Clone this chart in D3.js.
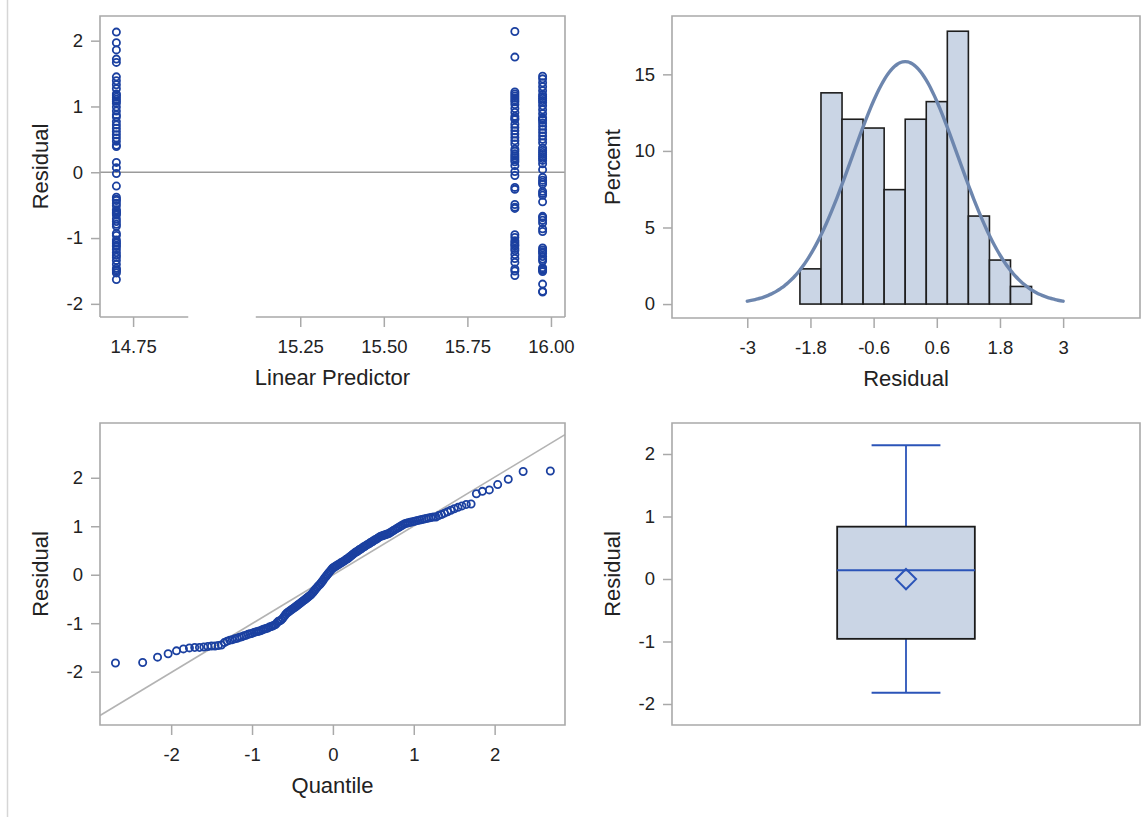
<!DOCTYPE html>
<html>
<head>
<meta charset="utf-8">
<script src="https://cdn.jsdelivr.net/npm/d3@7"></script>
<style>
  html, body { margin: 0; padding: 0; background: #fff; }
  svg { display: block; font-family: "Liberation Sans", Arial, sans-serif; }
</style>
</head>
<body>
<svg id="chart" width="1145" height="817"></svg>
<script>
// ---- Data -------------------------------------------------------------
// Fitted values (linear predictor) take three distinct levels.
const predictorLevels = [14.70, 15.892, 15.975];

// Residuals observed at each linear-predictor level.
const residualsLevel1 = [2.13, 1.97, 1.86, 1.72, 1.67, 1.45, 1.39, 1.33, 1.27, 1.19, 1.17, 1.14, 1.11, 1.08,
  1.05, 0.99, 0.93, 0.87, 0.84, 0.77, 0.72, 0.67, 0.62, 0.57, 0.52, 0.47, 0.41, 0.39, 0.15, 0.07, -0.02,
  -0.21, -0.38, -0.41, -0.43, -0.47, -0.51, -0.57, -0.59, -0.61, -0.63, -0.65, -0.71, -0.75, -0.79, -0.82,
  -0.93, -0.96, -1.03, -1.06, -1.08, -1.11, -1.13, -1.17, -1.22, -1.26, -1.29, -1.34, -1.40, -1.46, -1.48,
  -1.50, -1.53, -1.63];
const residualsLevel2 = [2.14, 1.75, 1.22, 1.19, 1.16, 1.13, 1.10, 1.07, 1.03, 0.97, 0.91, 0.85, 0.82, 0.80,
  0.73, 0.68, 0.63, 0.58, 0.53, 0.48, 0.43, 0.35, 0.32, 0.28, 0.25, 0.22, 0.19, 0.16, 0.10, 0.01, -0.05,
  -0.23, -0.26, -0.49, -0.53, -0.55, -0.95, -0.99, -1.04, -1.07, -1.10, -1.12, -1.16, -1.19, -1.25, -1.31,
  -1.37, -1.47, -1.50, -1.57];
const residualsLevel3 = [1.46, 1.42, 1.36, 1.30, 1.24, 1.18, 1.15, 1.12, 1.09, 1.06, 1.01, 0.95, 0.89, 0.83,
  0.81, 0.79, 0.75, 0.70, 0.65, 0.60, 0.55, 0.50, 0.45, 0.37, 0.33, 0.30, 0.27, 0.24, 0.21, 0.18, 0.13, 0.04,
  -0.08, -0.12, -0.15, -0.18, -0.29, -0.32, -0.35, -0.45, -0.67, -0.69, -0.73, -0.77, -0.86, -0.90, -1.15,
  -1.18, -1.21, -1.23, -1.28, -1.32, -1.35, -1.45, -1.47, -1.49, -1.51, -1.70, -1.81, -1.82];

// Axis ticks and histogram binning.
const predictorTicks = [14.75, 15.25, 15.50, 15.75, 16.00];
const predictorBreak = [14.915, 15.117];
const residualTicks = [-2, -1, 0, 1, 2];
const histBinEdges = [-2.0, -1.6, -1.2, -0.8, -0.4, 0, 0.4, 0.8, 1.2, 1.6, 2.0, 2.4];
const histTicks = [-3, -1.8, -0.6, 0.6, 1.8, 3];
const percentTicks = [0, 5, 10, 15];
const quantileTicks = [-2, -1, 0, 1, 2];

// ---- Helpers ----------------------------------------------------------
const svg = d3.select("#chart");
const FRAME = "#a9a9a9", TEXT = "#222";
const MARK = "#1b40a0", BOXLINE = "#2b54b8", FILL = "#cad5e5";
const TICK_FONT = "18.5px", LABEL_FONT = "22px";
const MARK_R = 3.6, MARK_W = 1.8;
const fmt = d => String(d);

const residualRows = predictorLevels.flatMap((lp, i) =>
  [residualsLevel1, residualsLevel2, residualsLevel3][i].map(r => ({ lp, r })));
const allResiduals = residualRows.map(d => d.r);
const n = allResiduals.length;
const mu = d3.mean(allResiduals);
const sd = d3.deviation(allResiduals);

// Acklam's approximation to the standard normal quantile function.
function qnorm(p) {
  const a = [-3.969683028665376e+01, 2.209460984245205e+02, -2.759285104469687e+02,
             1.383577518672690e+02, -3.066479806614716e+01, 2.506628277459239e+00];
  const b = [-5.447609879822406e+01, 1.615858368580409e+02, -1.556989798598866e+02,
             6.680131188771972e+01, -1.328068155288572e+01];
  const c = [-7.784894002430293e-03, -3.223964580411365e-01, -2.400758277161838e+00,
             -2.549732539343734e+00, 4.374664141464968e+00, 2.938163982698783e+00];
  const d = [7.784695709041462e-03, 3.224671290700398e-01, 2.445134137142996e+00,
             3.754408661907416e+00];
  const pl = 0.02425, ph = 1 - pl;
  if (p < pl) {
    const q = Math.sqrt(-2 * Math.log(p));
    return (((((c[0]*q+c[1])*q+c[2])*q+c[3])*q+c[4])*q+c[5]) / ((((d[0]*q+d[1])*q+d[2])*q+d[3])*q+1);
  }
  if (p > ph) {
    const q = Math.sqrt(-2 * Math.log(1 - p));
    return -(((((c[0]*q+c[1])*q+c[2])*q+c[3])*q+c[4])*q+c[5]) / ((((d[0]*q+d[1])*q+d[2])*q+d[3])*q+1);
  }
  const q = p - 0.5, r = q * q;
  return (((((a[0]*r+a[1])*r+a[2])*r+a[3])*r+a[4])*r+a[5])*q /
         (((((b[0]*r+b[1])*r+b[2])*r+b[3])*r+b[4])*r+1);
}

function styleAxis(g) {
  g.select(".domain").remove();
  g.selectAll(".tick line").attr("stroke", FRAME).attr("stroke-width", 1.5);
  g.selectAll(".tick text").attr("fill", TEXT).style("font-size", TICK_FONT);
}

function drawFrame(p, skipBottom) {
  const g = svg.append("g").attr("fill", "none").attr("stroke", FRAME).attr("stroke-width", 1.6);
  g.append("path").attr("d",
    skipBottom
      ? `M${p.x0},${p.y1}V${p.y0}H${p.x1}V${p.y1}`
      : `M${p.x0},${p.y0}H${p.x1}V${p.y1}H${p.x0}Z`);
  return g;
}

function yLabel(p, text) {
  svg.append("text")
    .attr("transform", `translate(${p.x0 - 52},${(p.y0 + p.y1) / 2}) rotate(-90)`)
    .attr("text-anchor", "middle").attr("fill", TEXT).style("font-size", LABEL_FONT)
    .text(text);
}
function xLabel(p, text) {
  svg.append("text")
    .attr("x", (p.x0 + p.x1) / 2).attr("y", p.y1 + 68)
    .attr("text-anchor", "middle").attr("fill", TEXT).style("font-size", LABEL_FONT)
    .text(text);
}
function yAxis(p, scale, ticks) {
  svg.append("g").attr("transform", `translate(${p.x0},0)`)
    .call(d3.axisLeft(scale).tickValues(ticks).tickFormat(fmt).tickSize(9).tickPadding(8))
    .call(styleAxis);
}
function xAxis(p, scale, ticks, format) {
  svg.append("g").attr("transform", `translate(0,${p.y1})`)
    .call(d3.axisBottom(scale).tickValues(ticks).tickFormat(format || fmt).tickSize(10).tickPadding(13))
    .call(styleAxis);
}

// Left page rule
svg.append("line").attr("x1", 7.5).attr("x2", 7.5).attr("y1", 0).attr("y2", 817)
  .attr("stroke", "#d6d6d6").attr("stroke-width", 1.5);

// ---- Panel 1: residual vs linear predictor ----------------------------
{
  const p = { x0: 100, x1: 565, y0: 16, y1: 317 };
  const x = d3.scaleLinear().domain([14.651, 16.042]).range([p.x0, p.x1]);
  const y = d3.scaleLinear().domain([-2.2, 2.375]).range([p.y1, p.y0]);

  svg.append("line").attr("x1", p.x0).attr("x2", p.x1).attr("y1", y(0)).attr("y2", y(0))
    .attr("stroke", "#9b9b9b").attr("stroke-width", 1.5);

  const fr = drawFrame(p, true);
  fr.append("line").attr("x1", p.x0).attr("x2", x(predictorBreak[0])).attr("y1", p.y1).attr("y2", p.y1);
  fr.append("line").attr("x1", x(predictorBreak[1])).attr("x2", p.x1).attr("y1", p.y1).attr("y2", p.y1);

  svg.append("g").selectAll("circle").data(residualRows).join("circle")
    .attr("cx", d => x(d.lp)).attr("cy", d => y(d.r)).attr("r", MARK_R)
    .attr("fill", "none").attr("stroke", MARK).attr("stroke-width", MARK_W);

  yAxis(p, y, residualTicks);
  xAxis(p, x, predictorTicks, d => d.toFixed(2));
  yLabel(p, "Residual");
  xLabel(p, "Linear Predictor");
}

// ---- Panel 2: histogram of residuals with normal density --------------
{
  const p = { x0: 672, x1: 1140, y0: 16, y1: 318 };
  const x = d3.scaleLinear().domain([-4.43, 4.46]).range([p.x0, p.x1]);
  const y = d3.scaleLinear().domain([-0.91, 18.81]).range([p.y1, p.y0]);
  const bins = d3.bin()
    .domain([histBinEdges[0], histBinEdges[histBinEdges.length - 1]])
    .thresholds(histBinEdges.slice(1, -1))(allResiduals);

  svg.append("g").selectAll("rect").data(bins).join("rect")
    .attr("x", d => x(d.x0)).attr("width", d => x(d.x1) - x(d.x0))
    .attr("y", d => y(100 * d.length / n)).attr("height", d => y(0) - y(100 * d.length / n))
    .attr("fill", FILL).attr("stroke", "#1e1e1e").attr("stroke-width", 1.6);

  const binWidth = histBinEdges[1] - histBinEdges[0];
  const curveX = d3.range(-3, 3.0001, 0.05);
  const density = v => 100 * binWidth * Math.exp(-0.5 * ((v - mu) / sd) ** 2) / (sd * Math.sqrt(2 * Math.PI));
  svg.append("path").datum(curveX)
    .attr("d", d3.line().x(v => x(v)).y(v => y(density(v))).curve(d3.curveBasis))
    .attr("fill", "none").attr("stroke", "#6d86ae").attr("stroke-width", 3.4)
    .attr("stroke-linecap", "round");

  drawFrame(p, false);
  yAxis(p, y, percentTicks);
  xAxis(p, x, histTicks);
  yLabel(p, "Percent");
  xLabel(p, "Residual");
}

// ---- Panel 3: normal quantile plot ------------------------------------
{
  const p = { x0: 100, x1: 565, y0: 423, y1: 725 };
  const x = d3.scaleLinear().domain([-2.88, 2.87]).range([p.x0, p.x1]);
  const y = d3.scaleLinear().domain([-3.10, 3.13]).range([p.y1, p.y0]);
  const sorted = allResiduals.slice().sort(d3.ascending);
  const qq = sorted.map((r, i) => ({ q: qnorm((i + 1 - 0.375) / (n + 0.25)), r }));

  svg.append("clipPath").attr("id", "qqclip")
    .append("rect").attr("x", p.x0).attr("y", p.y0).attr("width", p.x1 - p.x0).attr("height", p.y1 - p.y0);
  const xd = x.domain();
  svg.append("line").attr("clip-path", "url(#qqclip)")
    .attr("x1", x(xd[0])).attr("y1", y(mu + sd * xd[0]))
    .attr("x2", x(xd[1])).attr("y2", y(mu + sd * xd[1]))
    .attr("stroke", "#b3b3b3").attr("stroke-width", 1.6);

  svg.append("g").selectAll("circle").data(qq).join("circle")
    .attr("cx", d => x(d.q)).attr("cy", d => y(d.r)).attr("r", MARK_R)
    .attr("fill", "none").attr("stroke", MARK).attr("stroke-width", MARK_W);

  drawFrame(p, false);
  yAxis(p, y, residualTicks);
  xAxis(p, x, quantileTicks);
  yLabel(p, "Residual");
  xLabel(p, "Quantile");
}

// ---- Panel 4: box plot of residuals -----------------------------------
{
  const p = { x0: 672, x1: 1140, y0: 423, y1: 725 };
  const y = d3.scaleLinear().domain([-2.336, 2.496]).range([p.y1, p.y0]);
  const x = d3.scaleBand().domain(["Residual"]).range([p.x0, p.x1]).paddingInner(0).paddingOuter(0.35);
  const sorted = allResiduals.slice().sort(d3.ascending);
  const stats = {
    min: sorted[0], q1: d3.quantileSorted(sorted, 0.25), med: d3.quantileSorted(sorted, 0.5),
    q3: d3.quantileSorted(sorted, 0.75), max: sorted[n - 1], mean: mu
  };
  const cx = x("Residual") + x.bandwidth() / 2;
  const bw = x.bandwidth() * 0.5;
  const g = svg.append("g");

  g.append("line").attr("x1", cx).attr("x2", cx).attr("y1", y(stats.q3)).attr("y2", y(stats.max))
    .attr("stroke", BOXLINE).attr("stroke-width", 1.8);
  g.append("line").attr("x1", cx).attr("x2", cx).attr("y1", y(stats.q1)).attr("y2", y(stats.min))
    .attr("stroke", BOXLINE).attr("stroke-width", 1.8);
  [stats.max, stats.min].forEach(v =>
    g.append("line").attr("x1", cx - bw / 4).attr("x2", cx + bw / 4).attr("y1", y(v)).attr("y2", y(v))
      .attr("stroke", BOXLINE).attr("stroke-width", 1.8));
  g.append("rect").attr("x", cx - bw / 2).attr("width", bw)
    .attr("y", y(stats.q3)).attr("height", y(stats.q1) - y(stats.q3))
    .attr("fill", FILL).attr("stroke", "#1a1a1a").attr("stroke-width", 1.8);
  g.append("line").attr("x1", cx - bw / 2).attr("x2", cx + bw / 2)
    .attr("y1", y(stats.med)).attr("y2", y(stats.med))
    .attr("stroke", BOXLINE).attr("stroke-width", 1.8);
  g.append("path")
    .attr("d", d3.symbol(d3.symbolDiamond2, 260)())
    .attr("transform", `translate(${cx},${y(stats.mean)})`)
    .attr("fill", "none").attr("stroke", BOXLINE).attr("stroke-width", 2);

  drawFrame(p, false);
  yAxis(p, y, residualTicks);
  yLabel(p, "Residual");
}
</script>
</body>
</html>
